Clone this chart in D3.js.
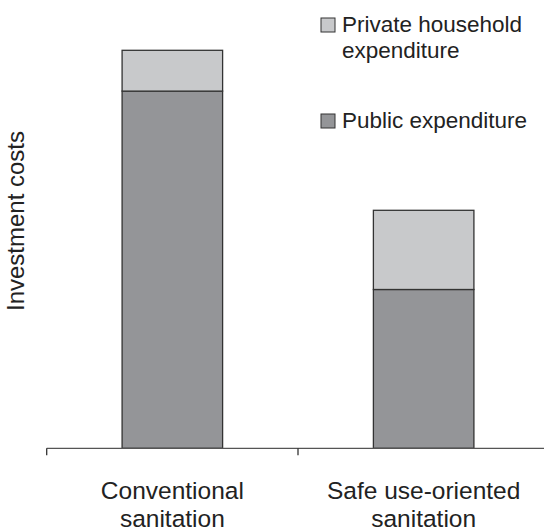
<!DOCTYPE html>
<html><head><meta charset="utf-8">
<script src="https://cdn.jsdelivr.net/npm/d3@7"></script>
<style>html,body{margin:0;padding:0;background:#fff;}svg{display:block;}</style>
</head><body>
<svg id="chart" width="544" height="531"></svg>
<script>
const categories = ["Conventional sanitation", "Safe use-oriented sanitation"];
const categoryLines = [["Conventional", "sanitation"], ["Safe use-oriented", "sanitation"]];
const publicExpenditure = [89.3, 39.7];
const privateExpenditure = [10.2, 19.8];
const seriesNames = ["Private household expenditure", "Public expenditure"];
const yLabel = "Investment costs";

const svg = d3.select("#chart");
const font = "Liberation Sans, Arial, Helvetica, sans-serif";
const colPublic = "#949598", colPrivate = "#c8c9cb", stroke = "#333";

const x = d3.scaleBand().domain(categories).range([46.7, 549.3]).paddingInner(0.6).paddingOuter(0.3);
const y = d3.scaleLinear().domain([0, 100]).range([448.3, 48.3]);

const data = categories.map((c, i) => ({cat: c, pub: publicExpenditure[i], priv: privateExpenditure[i]}));
const stack = d3.stack().keys(["pub", "priv"])(data);
const colors = {pub: colPublic, priv: colPrivate};

svg.append("g").selectAll("g").data(stack).join("g")
  .attr("fill", d => colors[d.key])
  .selectAll("rect").data(d => d).join("rect")
  .attr("x", d => x(d.data.cat))
  .attr("width", x.bandwidth())
  .attr("y", d => y(d[1]))
  .attr("height", d => y(d[0]) - y(d[1]))
  .attr("stroke", stroke).attr("stroke-width", 1.3);

// axis
const axisG = svg.append("g").attr("transform", `translate(0,${y(0)})`);
axisG.append("line").attr("x1", x.range()[0]).attr("x2", 544).attr("y1", 0).attr("y2", 0)
  .attr("stroke", "#555").attr("stroke-width", 1.3);
axisG.selectAll("line.tick").data(categories).join("line").attr("class", "tick")
  .attr("x1", c => x(c) + x.bandwidth()/2 - x.step()/2)
  .attr("x2", c => x(c) + x.bandwidth()/2 - x.step()/2)
  .attr("y1", 0).attr("y2", 7).attr("stroke", "#333").attr("stroke-width", 1.3);

// category labels
categories.forEach((c, i) => {
  const t = svg.append("text").attr("text-anchor", "middle")
    .attr("font-family", font).attr("font-size", 24.5).attr("fill", "#222");
  categoryLines[i].forEach((ln, j) => {
    t.append("tspan").attr("x", x(c) + x.bandwidth()/2).attr("y", 499 + j*28).text(ln);
  });
});

// y label
svg.append("text").attr("transform", "translate(24,221) rotate(-90)")
  .attr("text-anchor", "middle").attr("font-family", font).attr("font-size", 24)
  .attr("fill", "#222").text(yLabel);

// legend
const legend = [
  {name: ["Private household", "expenditure"], color: colPrivate, y: 18},
  {name: ["Public expenditure"], color: colPublic, y: 114}
];
legend.forEach(l => {
  svg.append("rect").attr("x", 321).attr("y", l.y).attr("width", 14).attr("height", 14)
    .attr("fill", l.color).attr("stroke", stroke).attr("stroke-width", 1);
  const t = svg.append("text").attr("font-family", font).attr("font-size", 22.5).attr("fill", "#222");
  l.name.forEach((ln, j) => t.append("tspan").attr("x", 342).attr("y", l.y + 14 + j*26).text(ln));
});
</script>
</body></html>
